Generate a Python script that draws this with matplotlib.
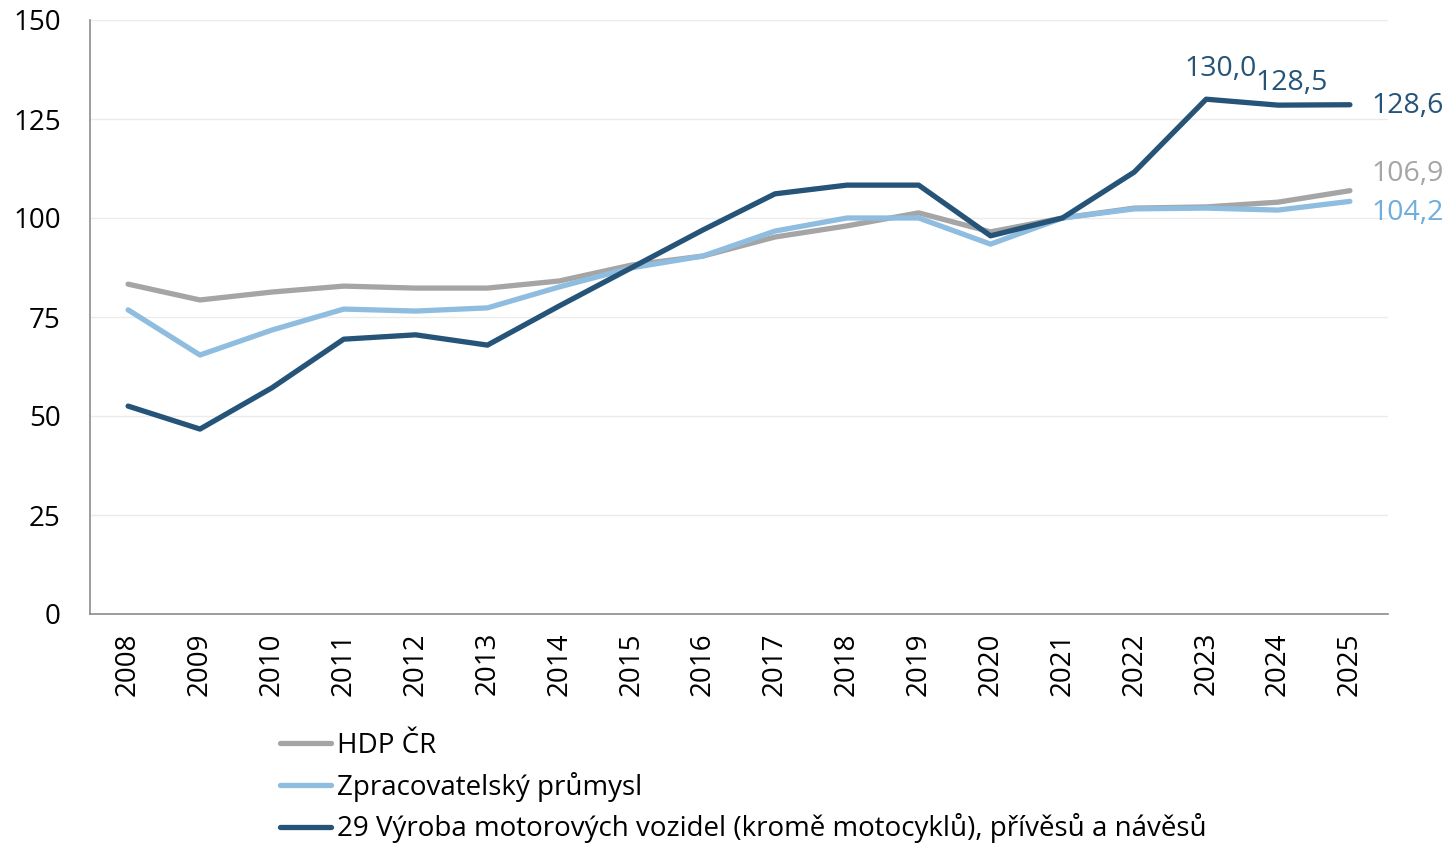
import numpy as np
import matplotlib.pyplot as plt

# Data (index)
##############################################

years = [str(y) for y in range(2008, 2026)]
hdp = [83.3, 79.3, 81.3, 82.8, 82.3, 82.3, 84.1, 88.1, 90.4, 95.2, 98.0,
       101.3, 96.5, 100.0, 102.5, 102.8, 104.0, 106.9]
zprac = [76.8, 65.4, 71.7, 77.0, 76.5, 77.3, 82.6, 87.4, 90.4, 96.7, 100.0,
         100.0, 93.4, 100.0, 102.3, 102.5, 102.0, 104.2]
auto = [52.5, 46.7, 57.1, 69.4, 70.5, 67.9, 77.8, 87.4, 97.0, 106.1, 108.3,
        108.3, 95.5, 100.0, 111.6, 130.0, 128.5, 128.6]
names = ['HDP ČR', 'Zpracovatelský průmysl',
         '29 Výroba motorových vozidel (kromě motocyklů), přívěsů a návěsů']

c_gray = '#A5A5A5'
c_light = '#8FBDE0'
c_dark = '#255478'

plt.rcParams['font.family'] = ['Open Sans', 'DejaVu Sans']

fig = plt.figure(figsize=(14.53, 8.43), dpi=100)
ax = fig.add_axes([90 / 1453, 1 - 614 / 843, 1298 / 1453, 594 / 843])

x = np.arange(len(years))
ax.plot(x, hdp, color=c_gray, lw=3.8, label=names[0], solid_capstyle='round')
ax.plot(x, zprac, color=c_light, lw=3.8, label=names[1], solid_capstyle='round')
ax.plot(x, auto, color=c_dark, lw=3.8, label=names[2], solid_capstyle='round')

ax.set_xlim(-0.53, len(years) - 0.47)
ax.set_ylim(0, 150)
ax.set_yticks(range(0, 151, 25))
ax.set_xticks(x)
ax.set_xticklabels(years, rotation=90)
ax.tick_params(axis='both', length=0, labelsize=20)
ax.tick_params(axis='y', pad=21)
ax.tick_params(axis='x', pad=13)
ax.grid(axis='y', color='#EBEBEB', lw=1)
ax.set_axisbelow(True)
for s in ['top', 'right']:
    ax.spines[s].set_visible(False)
for s in ['left', 'bottom']:
    ax.spines[s].set_color('#8C8C8C')
    ax.spines[s].set_linewidth(1.2)

# Data labels
lab = dict(fontsize=20.5)
ax.annotate('130,0', (15, auto[15]), xytext=(14, 16), textcoords='offset pixels',
            ha='center', va='bottom', color=c_dark, **lab)
ax.annotate('128,5', (16, auto[16]), xytext=(14, 8), textcoords='offset pixels',
            ha='center', va='bottom', color=c_dark, **lab)
ax.annotate('128,6', (17, auto[17]), xytext=(22, -1), textcoords='offset pixels',
            ha='left', va='center', color=c_dark, **lab)
ax.annotate('106,9', (17, hdp[17]), xytext=(22, 17), textcoords='offset pixels',
            ha='left', va='center', color=c_gray, **lab)
ax.annotate('104,2', (17, zprac[17]), xytext=(22, -12), textcoords='offset pixels',
            ha='left', va='center', color='#6EADDC', **lab)

leg = fig.legend(loc='upper left', bbox_to_anchor=(255 / 1453, 1 - 707 / 843),
                 frameon=False, handlelength=1.85, handletextpad=0.2,
                 labelspacing=0.42, prop={'size': 20})

fig.savefig('out.png', dpi=100)
